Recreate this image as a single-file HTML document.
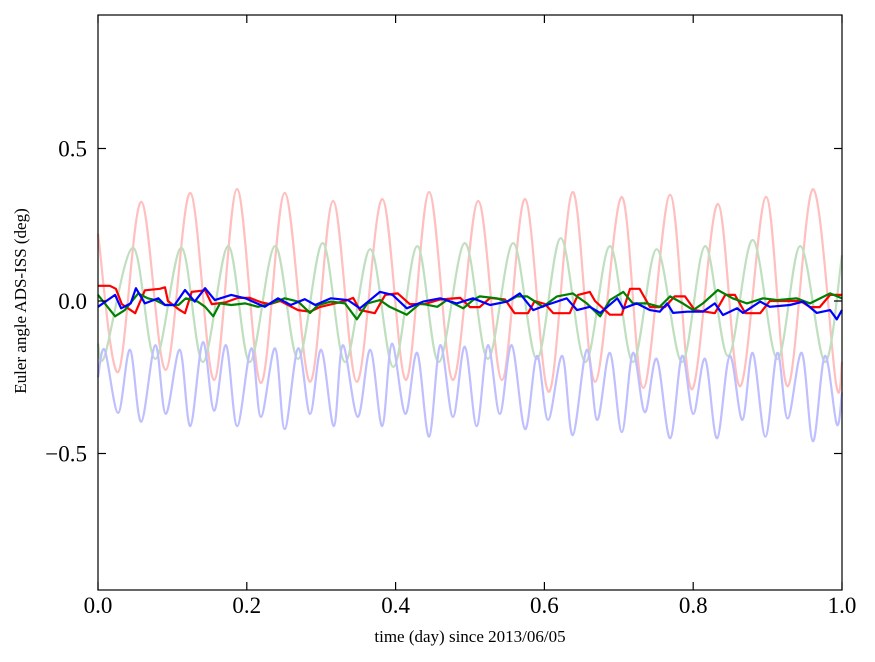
<!DOCTYPE html>
<html><head><meta charset="utf-8"><style>
html,body{margin:0;padding:0;background:#fff;}
svg{display:block;font-family:"Liberation Serif",serif;}
</style></head><body>
<svg id="chart" width="875" height="662" xmlns="http://www.w3.org/2000/svg">
<rect x="0" y="0" width="875" height="662" fill="#fff"/>
<g id="series"></g>
<g id="axes"></g>
<text x="470" y="642" font-size="17" text-anchor="middle">time (day) since 2013/06/05</text>
<text transform="translate(26,301) rotate(-90)" font-size="17" text-anchor="middle">Euler angle ADS-ISS (deg)</text>
</svg>
<script>
// ---- data ----
const xTicks = [0, 0.2, 0.4, 0.6, 0.8, 1.0];
const xTickLabels = ["0.0", "0.2", "0.4", "0.6", "0.8", "1.0"];
const yTicks = [0.5, 0.0, -0.5];
const yTickLabels = ["0.5", "0.0", "\u22120.5"];

const redFadedT = [0,0.027,0.058,0.091,0.124,0.156,0.187,0.219,0.251,0.285,0.316,0.348,0.382,0.414,0.445,0.477,0.511,0.543,0.574,0.606,0.638,0.668,0.704,0.733,0.769,0.798,0.833,0.863,0.898,0.927,0.961,0.992,1.0];
const redFadedV = [0.22,-0.233,0.325,-0.226,0.354,-0.259,0.367,-0.269,0.354,-0.265,0.328,-0.265,0.334,-0.259,0.357,-0.259,0.328,-0.259,0.334,-0.298,0.357,-0.265,0.341,-0.285,0.348,-0.29,0.318,-0.28,0.341,-0.28,0.367,-0.27,-0.2];

const greenFadedT = [0,0.009,0.047,0.077,0.112,0.141,0.175,0.204,0.238,0.269,0.302,0.332,0.366,0.397,0.429,0.458,0.493,0.524,0.558,0.590,0.622,0.655,0.688,0.719,0.751,0.785,0.816,0.847,0.880,0.913,0.944,0.977,1.0];
const greenFadedV = [-0.14,-0.18,0.174,-0.19,0.174,-0.2,0.18,-0.2,0.18,-0.19,0.19,-0.2,0.17,-0.216,0.18,-0.2,0.19,-0.19,0.19,-0.19,0.206,-0.2,0.18,-0.2,0.17,-0.2,0.18,-0.18,0.2,-0.19,0.18,-0.2,0.15];

const blueFadedT = [0,.009,.027,.043,.058,.077,.091,.110,.124,.141,.156,.172,.187,.206,.219,.238,.251,.269,.285,.300,.317,.329,.349,.366,.382,.395,.413,.429,.445,.460,.477,.493,.509,.524,.540,.556,.574,.590,.605,.624,.638,.657,.671,.688,.704,.719,.735,.751,.769,.785,.800,.816,.832,.849,.866,.880,.897,.913,.927,.946,.961,.977,.993,1.0];
const blueFadedV = [-0.25,-0.16,-0.367,-0.16,-0.396,-0.145,-0.37,-0.16,-0.41,-0.135,-0.36,-0.145,-0.41,-0.155,-0.38,-0.155,-0.42,-0.155,-0.37,-0.16,-0.41,-0.145,-0.38,-0.16,-0.41,-0.14,-0.37,-0.17,-0.445,-0.145,-0.38,-0.15,-0.41,-0.145,-0.37,-0.145,-0.42,-0.18,-0.39,-0.18,-0.44,-0.16,-0.39,-0.17,-0.43,-0.17,-0.365,-0.19,-0.45,-0.18,-0.37,-0.19,-0.45,-0.18,-0.39,-0.17,-0.445,-0.17,-0.385,-0.17,-0.46,-0.18,-0.405,-0.3];

const redT = [0,.016,.024,.032,.050,.063,.083,.090,.094,.110,.117,.126,.144,.153,.171,.188,.204,.220,.231,.245,.269,.285,.298,.332,.343,.352,.372,.386,.403,.419,.439,.460,.487,.500,.513,.527,.547,.560,.578,.587,.601,.612,.634,.645,.661,.668,.688,.704,.715,.728,.742,.762,.775,.789,.802,.829,.843,.856,.870,.890,.903,.944,.957,.970,.984,1.0];
const redV = [.05,.05,.04,-.01,-.04,.035,.04,.045,0,-.03,-.04,.03,.035,-.01,-.005,.01,.01,-.005,-.01,0,-.03,-.035,-.02,0,.01,-.03,-.04,.02,.025,-.01,-.01,.005,.01,-.02,-.02,.01,.005,-.04,-.04,0,-.01,-.04,-.04,.02,.03,0,-.045,-.045,.04,.04,-.02,-.02,.015,.015,-.03,-.04,.02,.02,-.04,-.04,0,0,-.02,-.02,.02,.02];

const greenT = [0,.023,.036,.054,.067,.077,.090,.108,.118,.134,.144,.155,.164,.179,.198,.215,.233,.251,.269,.285,.296,.313,.332,.348,.362,.379,.392,.415,.433,.456,.469,.491,.504,.513,.536,.550,.563,.577,.598,.617,.638,.657,.675,.688,.706,.719,.738,.755,.769,.786,.800,.813,.833,.853,.872,.894,.913,.939,.957,.984,1.0];
const greenV = [.02,-.05,-.03,.025,.009,.003,-.013,-.013,.009,-.002,-.019,-.05,-.008,-.013,-.008,-.019,-.008,.009,-.002,-.039,-.013,-.002,-.008,-.06,-.008,.003,-.019,-.045,-.008,-.019,.003,-.024,.003,.015,.009,-.002,.015,.015,-.019,.015,.025,-.008,-.05,.003,.03,-.008,-.008,-.019,.015,-.008,-.03,-.008,.036,.009,-.008,.009,.003,.009,-.008,.025,.009];

const blueT = [0,.023,.031,.044,.051,.063,.081,.090,.103,.117,.130,.144,.157,.179,.198,.224,.242,.259,.278,.292,.313,.336,.352,.379,.396,.415,.437,.460,.482,.504,.527,.550,.567,.585,.603,.630,.644,.661,.675,.698,.706,.724,.742,.755,.765,.773,.792,.813,.829,.840,.859,.867,.890,.903,.930,.948,.966,.984,.993,1.0];
const blueV = [-.019,.02,-.024,-.008,.042,-.008,.009,-.013,-.013,.036,-.002,.042,.003,.02,.009,-.019,.009,-.013,.006,-.013,.009,.003,-.024,.03,.02,-.024,-.002,.009,-.008,.009,-.013,-.002,.025,-.03,-.013,.009,-.03,-.019,-.039,.009,-.024,-.008,-.03,-.035,-.008,-.039,-.035,-.035,-.008,-.046,-.024,-.039,-.002,-.019,-.013,-.002,-.039,-.03,-.06,-.03];

// ---- axes functions ----
const L = 98, R = 842, T = 15, B = 590;
function xs(t){ return L + (t - 0) / (1 - 0) * (R - L); }
function ys(v){ return 301 - v * 305; }

const NS = "http://www.w3.org/2000/svg";
const sg = document.getElementById('series');
const ag = document.getElementById('axes');

function smoothPath(ts, vs){
  const p = ts.map((t,i)=>[xs(t), ys(vs[i])]);
  let d = "M" + p[0][0].toFixed(1) + "," + p[0][1].toFixed(1);
  for (let i=0;i<p.length-1;i++){
    const p0 = p[Math.max(0,i-1)], p1 = p[i], p2 = p[i+1], p3 = p[Math.min(p.length-1,i+2)];
    const c1x = p1[0] + (p2[0]-p0[0])/6, c1y = p1[1] + (p2[1]-p0[1])/6;
    const c2x = p2[0] - (p3[0]-p1[0])/6, c2y = p2[1] - (p3[1]-p1[1])/6;
    d += " C" + c1x.toFixed(1)+","+c1y.toFixed(1)+" "+c2x.toFixed(1)+","+c2y.toFixed(1)+" "+p2[0].toFixed(1)+","+p2[1].toFixed(1);
  }
  return d;
}
function linePath(ts, vs){
  return ts.map((t,i)=>(i?"L":"M")+xs(t).toFixed(1)+","+ys(vs[i]).toFixed(1)).join(" ");
}
function addPath(d, color, w, name){
  const el = document.createElementNS(NS, 'path');
  el.setAttribute('d', d);
  el.setAttribute('fill', 'none');
  el.setAttribute('stroke', color);
  el.setAttribute('stroke-width', w);
  el.setAttribute('stroke-linejoin', 'round');
  
  
  sg.appendChild(el);
}
addPath(smoothPath(redFadedT, redFadedV), '#ffbfbf', 2.2, 'series-red-faded');
addPath(smoothPath(greenFadedT, greenFadedV), '#bfdfbf', 2.2, 'series-green-faded');
addPath(smoothPath(blueFadedT, blueFadedV), '#bfbfff', 2.2, 'series-blue-faded');
addPath(linePath(redT, redV), '#ff0000', 2.2, 'series-red');
addPath(linePath(greenT, greenV), '#008000', 2.2, 'series-green');
addPath(linePath(blueT, blueV), '#0000ff', 2.2, 'series-blue');

// frame
const frame = document.createElementNS(NS, 'rect');
frame.setAttribute('x', L); frame.setAttribute('y', T);
frame.setAttribute('width', R-L); frame.setAttribute('height', B-T);
frame.setAttribute('fill', 'none'); frame.setAttribute('stroke', '#000'); frame.setAttribute('stroke-width', 1.2);


ag.appendChild(frame);

function tick(x1,y1,x2,y2,name){
  const l = document.createElementNS(NS,'line');
  l.setAttribute('x1',x1); l.setAttribute('y1',y1); l.setAttribute('x2',x2); l.setAttribute('y2',y2);
  l.setAttribute('stroke','#000'); l.setAttribute('stroke-width',1.2);
  
  
  ag.appendChild(l);
}
function label(x,y,txt,anchor,name){
  const t = document.createElementNS(NS,'text');
  t.setAttribute('x',x); t.setAttribute('y',y);
  t.setAttribute('font-size',23); t.setAttribute('text-anchor',anchor);
  t.textContent = txt;
  
  
  ag.appendChild(t);
}
xTicks.forEach((v,i)=>{
  const x = xs(v);
  tick(x,B,x,B-8,'x-tick');
  tick(x,T,x,T+8,'x-tick-top');
  label(x,613,xTickLabels[i],'middle','x-tick-label');
});
yTicks.forEach((v,i)=>{
  const y = ys(v);
  tick(L,y,L+8,y,'y-tick');
  tick(R,y,R-8,y,'y-tick-right');
  label(87,y+8,yTickLabels[i],'end','y-tick-label');
});
</script>
</body></html>
